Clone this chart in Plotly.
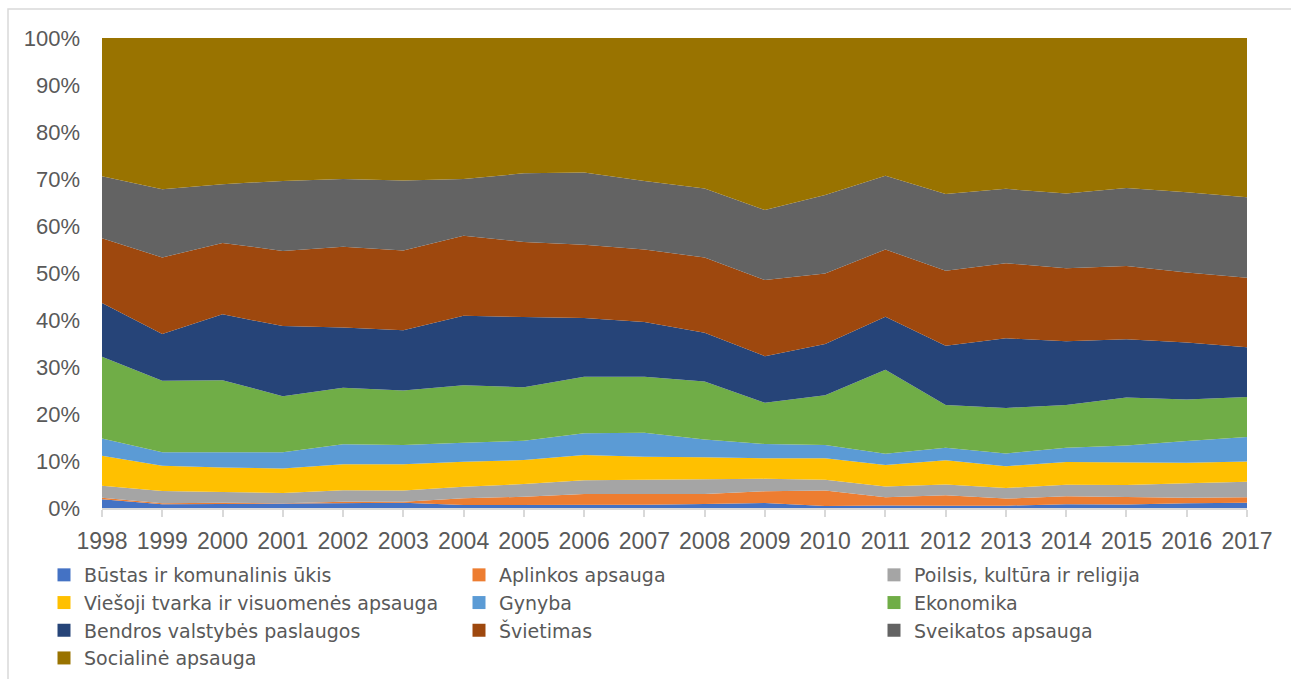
import plotly.graph_objects as go

years = list(range(1998, 2018))

bustas     = [1.85, 0.8, 0.85, 0.9, 1.1, 1.1, 0.65, 0.65, 0.7, 0.7, 0.85, 1.05, 0.4, 0.55, 0.5, 0.5, 0.8, 0.75, 1.0, 1.1]
aplinkos   = [0.35, 0.2, 0.25, 0.1, 0.25, 0.25, 1.4, 1.75, 2.3, 2.3, 2.15, 2.5, 3.3, 1.75, 2.2, 1.5, 1.7, 1.6, 1.2, 1.2]
poilsis    = [2.55, 2.6, 2.3, 2.2, 2.45, 2.35, 2.45, 2.7, 2.9, 3.0, 3.0, 2.65, 2.3, 2.3, 2.3, 2.25, 2.45, 2.55, 3.05, 3.3]
viesoji    = [6.35, 5.4, 5.2, 5.2, 5.5, 5.6, 5.35, 5.1, 5.4, 4.9, 4.8, 4.4, 4.6, 4.55, 5.15, 4.65, 4.85, 4.75, 4.4, 4.3]
gynyba     = [3.7, 2.85, 3.25, 3.45, 4.25, 4.1, 4.05, 4.1, 4.6, 5.1, 3.8, 3.0, 2.8, 2.4, 2.65, 2.7, 3.0, 3.65, 4.6, 5.2]
ekonomika  = [17.4, 15.25, 15.35, 11.95, 12.05, 11.6, 12.2, 11.4, 12.0, 11.9, 12.3, 8.8, 10.6, 17.85, 9.1, 9.7, 9.1, 10.2, 8.85, 8.5]
bendros    = [11.4, 9.9, 14.0, 14.9, 12.8, 12.8, 14.8, 14.9, 12.5, 11.7, 10.4, 9.9, 10.9, 11.3, 12.6, 14.8, 13.6, 12.4, 12.1, 10.6]
svietimas  = [13.8, 16.3, 15.2, 16.0, 17.2, 17.0, 17.0, 16.0, 15.6, 15.4, 16.0, 16.2, 15.0, 14.3, 16.0, 16.0, 15.5, 15.6, 14.9, 14.8]
sveikatos  = [13.2, 14.5, 12.5, 14.9, 14.4, 14.9, 12.1, 14.6, 15.4, 14.6, 14.7, 14.9, 16.7, 15.7, 16.3, 15.8, 15.9, 16.6, 17.1, 17.1]
socialine  = [29.4, 32.2, 31.1, 30.4, 30.0, 30.3, 30.0, 28.8, 28.6, 30.4, 32.0, 36.6, 33.4, 29.3, 33.2, 32.1, 33.1, 31.9, 32.8, 33.9]

names = ["Būstas ir komunalinis ūkis", "Aplinkos apsauga", "Poilsis, kultūra ir religija",
         "Viešoji tvarka ir visuomenės apsauga", "Gynyba", "Ekonomika",
         "Bendros valstybės paslaugos", "Švietimas", "Sveikatos apsauga", "Socialinė apsauga"]
series = [bustas, aplinkos, poilsis, viesoji, gynyba, ekonomika, bendros, svietimas, sveikatos, socialine]
colors = ["#4472C4", "#ED7D31", "#A5A5A5", "#FFC000", "#5B9BD5", "#70AD47",
          "#264478", "#9E480E", "#636363", "#997300"]

fig = go.Figure()
for n, s, c in zip(names, series, colors):
    fig.add_trace(go.Scatter(x=years, y=s, name=n, mode="lines", stackgroup="one",
                             groupnorm="percent", line=dict(width=0, color=c),
                             fillcolor=c, showlegend=False, hoverinfo="skip"))
for n, c in zip(names, colors):
    fig.add_trace(go.Scatter(x=[None], y=[None], name=n, mode="markers",
                             marker=dict(symbol="square", size=13, color=c),
                             showlegend=True))

W, H = 1291, 679
L, R, T, B = 102, 44, 38, 171
pw = W - L - R
ph = H - T - B

fig.update_layout(
    width=W, height=H,
    margin=dict(l=L, r=R, t=T, b=B, autoexpand=False),
    paper_bgcolor="white", plot_bgcolor="white",
    font=dict(family="Liberation Sans, Arial, sans-serif", color="#595959"),
    xaxis=dict(range=[1998, 2017], tickmode="array", tickvals=years,
               ticktext=[str(y) for y in years], showgrid=False, zeroline=False,
               showline=True, linecolor="#d9d9d9", linewidth=1.5,
               ticks="outside", ticklen=7, tickcolor="#d9d9d9", tickwidth=1.5,
               tickfont=dict(size=23, color="#595959"), ticklabelstandoff=5),
    yaxis=dict(range=[0, 100], dtick=10, ticksuffix="%", showgrid=False,
               zeroline=False, showline=False, ticks="",
               tickfont=dict(size=22, color="#595959"), ticklabelstandoff=21),
    legend=dict(orientation="h", x=(44 - L) / pw, xanchor="left",
                y=-(556 - (H - B)) / ph, yanchor="top",
                entrywidth=370, entrywidthmode="pixels", traceorder="normal",
                font=dict(family="DejaVu Sans, sans-serif", size=19, color="#595959"),
                itemwidth=30, bgcolor="rgba(0,0,0,0)"),
    shapes=[dict(type="rect", xref="paper", yref="paper",
                 x0=(8 - L) / pw, x1=(1310 - L) / pw,
                 y0=((H - B) - 700) / ph, y1=((H - B) - 9) / ph,
                 line=dict(color="#d9d9d9", width=1.5), fillcolor="rgba(0,0,0,0)",
                 layer="below")],
)

fig.write_html("out.html", config={"displayModeBar": False},
               post_script="document.body.style.margin='0';")
